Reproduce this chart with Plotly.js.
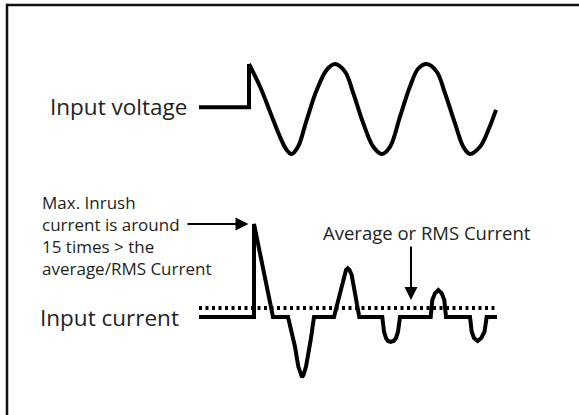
<!DOCTYPE html>
<html>
<head>
<meta charset="utf-8">
<script src="https://cdn.plot.ly/plotly-3.0.1.min.js"></script>
<style>
  html, body { margin: 0; padding: 0; background: #fff; }
  #chart { width: 579px; height: 415px; }
</style>
</head>
<body>
<div id="chart"></div>
<script>
// ---- Data (time in arbitrary units, amplitudes in arbitrary units) ----
// Input voltage: flat, then step at switch-on
const voltStepTime = [0, 50, 50];
const voltStepValue = [0.04, 0.04, 1.0];
// Input voltage: sine-like wave after switch-on
const voltWaveTime = [50, 61, 71, 81, 87.7, 92.7, 99, 107.7, 117.7, 127.7, 136, 146, 154.3, 164.3, 174.3, 182.7, 191, 201, 211, 219.3, 227.7, 237.7, 246, 256, 264.3, 271, 281, 289.3, 297];
const voltWaveValue = [1.00, 0.50, -0.06, -0.62, -0.91, -1.00, -0.84, -0.24, 0.42, 0.87, 1.00, 0.83, 0.35, -0.32, -0.84, -1.00, -0.84, -0.17, 0.50, 0.90, 1.00, 0.83, 0.35, -0.32, -0.84, -1.00, -0.84, -0.47, -0.02];

// Input current (inrush spike then pulses)
const currTime = [0, 55, 55, 74, 89, 96, 99.3, 101.5, 103, 104.5, 107, 111.7, 115,
  135, 141, 145, 147, 148.7, 150.5, 152.7, 156.7, 160.3,
  183.3, 185, 187, 189, 191.7, 194.5, 197, 199, 201,
  231.7, 233.3, 236, 239.3, 242.7, 245.3, 247,
  271, 272.7, 275, 278.7, 282.3, 285.5, 287.7, 298];
const currValue = [0, 0, 15, 0, 0, -4.8, -8.0, -9.35, -9.7, -9.35, -8.0, -3.7, 0,
  0, 3.87, 6.77, 7.58, 7.85, 7.58, 6.77, 3.27, 0,
  0, -2.37, -3.39, -3.87, -4.03, -3.87, -3.39, -2.37, 0,
  0, 2.74, 3.82, 4.35, 3.82, 2.74, 0,
  0, -2.37, -3.39, -3.87, -3.39, -2.37, 0, 0];

// Average / RMS current level
const avgTime = [0, 298];
const avgValue = [1.45, 1.45];

// Labels
const labelVoltage = 'Input voltage';
const labelCurrent = 'Input current';
const labelInrush = ['Max. Inrush', 'current is around', '15 times > the', 'average/RMS Current'];
const labelAverage = 'Average or RMS Current';

// ---- Chart ----
const ink = '#000';
const txt = '#231f20';
const FONT = 'Open Sans, sans-serif';

const traces = [
  { x: voltStepTime, y: voltStepValue, yaxis: 'y', mode: 'lines',
    line: { color: ink, width: 4, shape: 'linear' }, hoverinfo: 'skip' },
  { x: voltWaveTime, y: voltWaveValue, yaxis: 'y', mode: 'lines',
    line: { color: ink, width: 4, shape: 'spline', smoothing: 1 }, hoverinfo: 'skip' },
  { x: avgTime, y: avgValue, yaxis: 'y2', mode: 'lines',
    line: { color: ink, width: 4, dash: '3px,3.5px' }, hoverinfo: 'skip' },
  { x: currTime, y: currValue, yaxis: 'y2', mode: 'lines',
    line: { color: ink, width: 4, shape: 'linear' }, hoverinfo: 'skip' }
];

const layout = {
  width: 579, height: 415,
  margin: { l: 0, r: 0, t: 0, b: 0, pad: 0 },
  paper_bgcolor: '#fff', plot_bgcolor: '#fff',
  showlegend: false,
  font: { family: FONT, color: txt },
  xaxis: { range: [-199, 380], visible: false, fixedrange: true },
  yaxis: { range: [-6.8, 2.4222], visible: false, fixedrange: true },
  yaxis2: { range: [-15.806, 51.129], visible: false, overlaying: 'y', fixedrange: true },
  shapes: [
    { type: 'line', xref: 'paper', yref: 'paper', x0: 0.0121, x1: 1.0, y0: 0.9880, y1: 0.9880,
      line: { color: '#111', width: 2.5 } },
    { type: 'line', xref: 'paper', yref: 'paper', x0: 0.0121, x1: 0.0121, y0: 0.9910, y1: 0.0,
      line: { color: '#111', width: 2.5 } }
  ],
  annotations: [
    { text: labelVoltage, xref: 'x', yref: 'y', x: -11, y: 0.05, xanchor: 'right', yanchor: 'middle',
      showarrow: false, font: { family: FONT, size: 22.5, color: txt }, borderpad: 0 },
    { text: labelCurrent, xref: 'x', yref: 'y2', x: -19, y: -0.15, xanchor: 'right', yanchor: 'middle',
      showarrow: false, font: { family: FONT, size: 22.5, color: txt }, borderpad: 0 },
    { text: labelInrush.join('<br>'), xref: 'x', yref: 'y2', x: -158, y: (317 - 235) / 6.2,
      xanchor: 'left', yanchor: 'middle', align: 'left',
      showarrow: false, font: { family: FONT, size: 17, color: txt }, borderpad: 0 },
    { text: labelAverage, xref: 'x', yref: 'y2', x: 228, y: (317 - 232) / 6.2,
      xanchor: 'center', yanchor: 'middle',
      showarrow: false, font: { family: FONT, size: 18.5, color: txt }, borderpad: 0 },
    // arrow to inrush peak
    { text: '', xref: 'x', yref: 'y2', x: 49.5, y: 15, axref: 'x', ayref: 'y2', ax: -13, ay: 15,
      showarrow: true, arrowhead: 2, arrowsize: 1.3, arrowwidth: 2, arrowcolor: ink, standoff: 0 },
    // arrow to average line
    { text: '', xref: 'x', yref: 'y2', x: 212, y: 2.74, axref: 'x', ayref: 'y2', ax: 212, ay: 11.6,
      showarrow: true, arrowhead: 2, arrowsize: 1.3, arrowwidth: 2, arrowcolor: ink, standoff: 0 }
  ]
};

Plotly.newPlot('chart', traces, layout, { staticPlot: true, displayModeBar: false });
</script>
</body>
</html>
